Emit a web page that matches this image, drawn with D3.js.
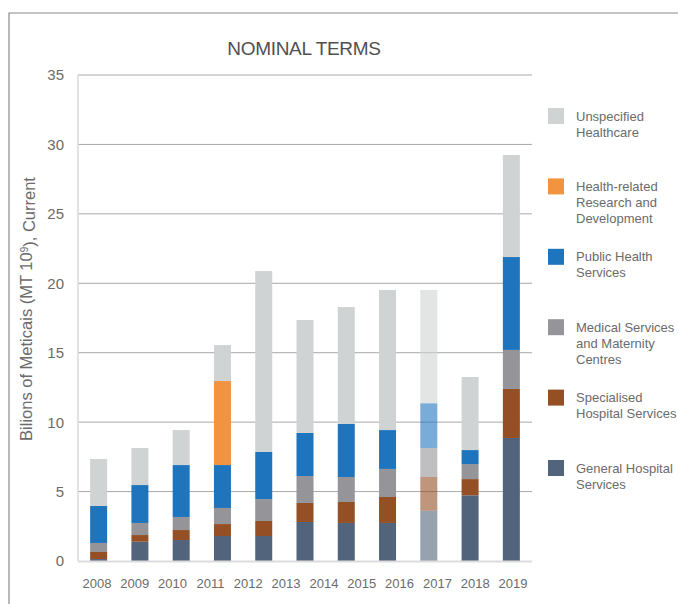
<!DOCTYPE html>
<meta charset="utf-8">
<head>
<title>Nominal terms</title>
<script src="https://cdnjs.cloudflare.com/ajax/libs/d3/7.8.5/d3.min.js" charset="utf-8"></script>
<style type="text/css">
body {margin: 0; background: #fff;}
text {font-family: "Liberation Sans", Arial, sans-serif; fill: #6b6b6b;}
</style>
</head>
<body>
<script>
// Data (billions of meticais) - 11 bars, bottom to top of each stack
var general      = [0.14, 1.39, 1.51, 1.80, 1.80, 2.81, 2.74, 2.74, 3.62, 4.73, 8.86],
    specialised  = [0.51, 0.48, 0.72, 0.86, 1.08, 1.37, 1.51, 1.87, 2.43, 1.17, 3.53],
    medical      = [0.65, 0.87, 0.94, 1.16, 1.58, 1.94, 1.80, 2.02, 2.09, 1.08, 2.81],
    publicHealth = [2.66, 2.73, 3.74, 3.09, 3.39, 3.10, 3.82, 2.80, 3.22, 1.01, 6.69],
    research     = [0, 0, 0, 6.05, 0, 0, 0, 0, 0, 0, 0],
    unspecified  = [3.39, 2.67, 2.52, 2.59, 13.03, 8.14, 8.42, 10.09, 8.16, 5.26, 7.35];

// the one lighter (projected) bar
var projected = [false, false, false, false, false, false, false, false, true, false, false];

// labels under the axis (12 of them, as in the original)
var tickLabels = ["2008", "2009", "2010", "2011", "2012", "2013", "2014", "2015", "2016", "2017", "2018", "2019"];
var yTicks = [0, 5, 10, 15, 20, 25, 30, 35];

var keys   = ["general", "specialised", "medical", "publicHealth", "research", "unspecified"];
var labels = {
  unspecified:  ["Unspecified", "Healthcare"],
  research:     ["Health-related", "Research and", "Development"],
  publicHealth: ["Public Health", "Services"],
  medical:      ["Medical Services", "and Maternity", "Centres"],
  specialised:  ["Specialised", "Hospital Services"],
  general:      ["General Hospital", "Services"]
};
var colors = {
  general: "#52647c", specialised: "#954f24", medical: "#959599",
  publicHealth: "#1f74be", research: "#f29340", unspecified: "#d0d3d4"
};

var series = {general: general, specialised: specialised, medical: medical,
              publicHealth: publicHealth, research: research, unspecified: unspecified};
var rows = general.map(function(d, i) {
  var r = {i: i, projected: projected[i]};
  keys.forEach(function(k) { r[k] = series[k][i]; });
  return r;
});

// Parameters
var width   = 678,
    height  = 604,
    plotL   = 78,
    plotR   = 532,
    plotT   = 75,
    plotB   = 561;

var svg = d3.select("body").append("svg")
  .attr("width", width)
  .attr("height", height);

// outer frame (top and left edges)
svg.append("path")
  .attr("d", "M9," + height + "V13H" + width)
  .attr("fill", "none")
  .attr("stroke", "#8a8a8a")
  .attr("stroke-width", 1.2);

var x = d3.scaleBand()
  .domain(rows.map(function(d) { return d.i; }))
  .range([plotL, plotR])
  .paddingInner(0.588)
  .paddingOuter(0.294);

var xLab = d3.scalePoint()
  .domain(tickLabels)
  .range([plotL, plotR])
  .padding(0.5);

var y = d3.scaleLinear()
  .domain([0, 35])
  .range([plotB, plotT]);

// gridlines
svg.append("g").selectAll("line")
  .data(yTicks.filter(function(t) { return t > 0; }))
  .enter().append("line")
  .attr("x1", plotL).attr("x2", plotR)
  .attr("y1", function(d) { return y(d); })
  .attr("y2", function(d) { return y(d); })
  .attr("stroke", "#a8a8a8")
  .attr("stroke-width", 1);

// left axis line
svg.append("line")
  .attr("x1", plotL).attr("x2", plotL)
  .attr("y1", plotT).attr("y2", plotB)
  .attr("stroke", "#dadada")
  .attr("stroke-width", 1.5);

// stacked bars
var stack = d3.stack().keys(keys)(rows);

svg.append("g").selectAll("g")
  .data(stack)
  .enter().append("g")
  .attr("fill", function(d) { return colors[d.key]; })
  .selectAll("rect")
  .data(function(d) { return d; })
  .enter().append("rect")
  .attr("x", function(d) { return x(d.data.i); })
  .attr("width", x.bandwidth())
  .attr("y", function(d) { return y(d[1]); })
  .attr("height", function(d) { return y(d[0]) - y(d[1]); })
  .attr("opacity", function(d) { return d.data.projected ? 0.6 : 1; });

// bottom axis line
svg.append("line")
  .attr("x1", plotL).attr("x2", plotR)
  .attr("y1", plotB + 0.5).attr("y2", plotB + 0.5)
  .attr("stroke", "#dcdcdc")
  .attr("stroke-width", 2);

// y tick labels
svg.append("g").selectAll("text")
  .data(yTicks)
  .enter().append("text")
  .attr("x", 64)
  .attr("y", function(d) { return y(d); })
  .attr("dy", "0.36em")
  .attr("text-anchor", "end")
  .style("font-size", "15px")
  .text(function(d) { return d; });

// x labels
svg.append("g").selectAll("text")
  .data(tickLabels)
  .enter().append("text")
  .attr("x", function(d) { return xLab(d); })
  .attr("y", 588)
  .attr("text-anchor", "middle")
  .style("font-size", "13px")
  .text(function(d) { return d; });

// title
svg.append("text")
  .attr("x", 304)
  .attr("y", 55)
  .attr("text-anchor", "middle")
  .style("font-size", "19px")
  .style("letter-spacing", "-0.3px")
  .style("fill", "#505050")
  .text("NOMINAL TERMS");

// y axis title
var yt = svg.append("text")
  .attr("transform", "translate(32,309) rotate(-90)")
  .attr("text-anchor", "middle")
  .style("font-size", "16.5px");
yt.append("tspan").text("Bilions of Meticais (MT 10");
yt.append("tspan").attr("dy", "-0.45em").style("font-size", "10px").text("9");
yt.append("tspan").attr("dy", "0.45em").text("), Current");

// legend
var legendKeys = keys.slice().reverse();
var ly = d3.scalePoint().domain(legendKeys).range([108, 460]);

var legend = svg.append("g").selectAll("g")
  .data(legendKeys)
  .enter().append("g")
  .attr("transform", function(d) { return "translate(548," + ly(d) + ")"; });

legend.append("rect")
  .attr("width", 16)
  .attr("height", 16)
  .attr("fill", function(d) { return colors[d]; });

legend.append("text")
  .attr("x", 28)
  .attr("y", 12.5)
  .style("font-size", "13px")
  .selectAll("tspan")
  .data(function(d) { return labels[d]; })
  .enter().append("tspan")
  .attr("x", 28)
  .attr("dy", function(d, i) { return i ? 16 : 0; })
  .text(function(d) { return d; });
</script>
</body>
